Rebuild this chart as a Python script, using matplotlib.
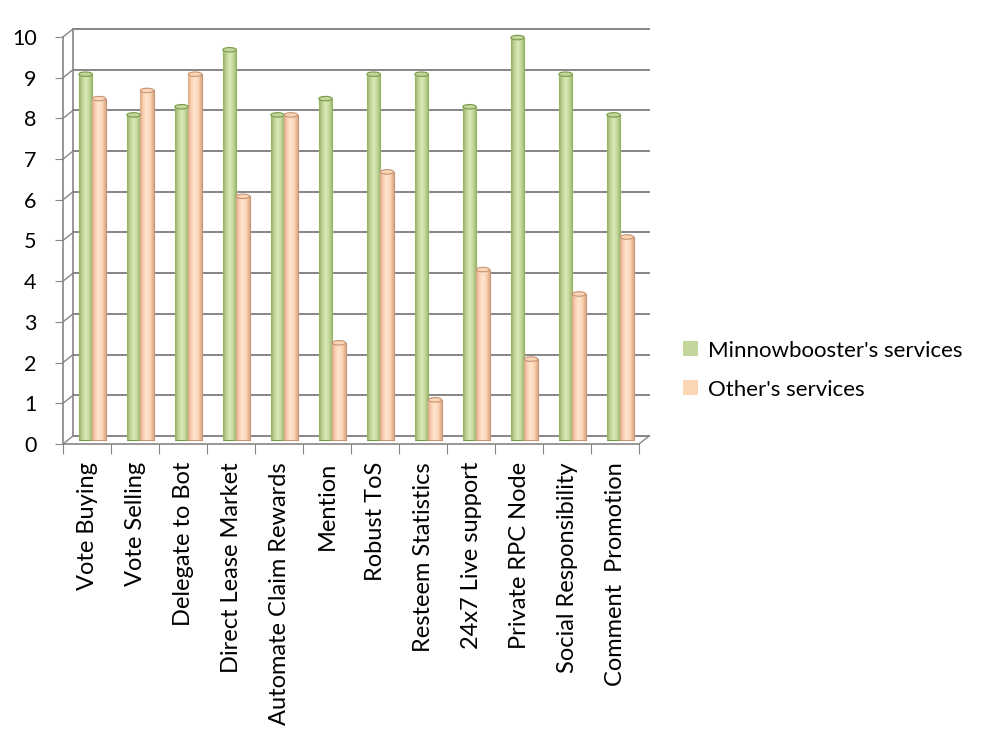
import matplotlib
matplotlib.use("Agg")
import matplotlib.pyplot as plt
import matplotlib.transforms as mtransforms
from matplotlib.patches import Ellipse, Patch
import numpy as np

categories = ["Vote Buying", "Vote Selling", "Delegate to Bot", "Direct Lease Market",
              "Automate Claim Rewards", "Mention", "Robust ToS", "Resteem Statistics",
              "24x7 Live support", "Private RPC Node", "Social Responsibility",
              "Comment  Promotion"]
minnow = [9, 8, 8.2, 9.6, 8, 8.4, 9, 9, 8.2, 9.9, 9, 8]
others = [8.4, 8.6, 9, 6, 8, 2.4, 6.6, 1, 4.2, 2, 3.6, 5]
series_names = ["Minnowbooster's services", "Other's services"]
yticks = list(range(0, 11))

plt.rcParams['font.family'] = ['Lato', 'DejaVu Sans']

fig = plt.figure(figsize=(9.93, 7.33), dpi=100)
ax = fig.add_axes([63/993, 1 - 444/733, 576/993, 407/733])
ax.set_xlim(-0.5, len(categories) - 0.5)
ax.set_ylim(0, 10)

grid_col = "#868686"
inv = fig.transFigure.inverted()
# back-wall offset (3D look)
off = mtransforms.ScaledTranslation(0.10, 0.08, fig.dpi_scale_trans)
gtrans = ax.get_yaxis_transform() + off
for y in yticks:
    ax.plot([0, 1], [y, y], transform=gtrans, color=grid_col, lw=1.4, clip_on=False, zorder=1)
ax.plot([0, 0], [0, 10], transform=gtrans, color=grid_col, lw=1.2, clip_on=False, zorder=1)
dtrans = ax.get_yaxis_transform()
for y in yticks:
    a = inv.transform(dtrans.transform((0, y)))
    b = inv.transform(gtrans.transform((0, y)))
    fig.add_artist(plt.Line2D([a[0], b[0]], [a[1], b[1]], color=grid_col, lw=1.0))
a = inv.transform(ax.transAxes.transform((1, 0)))
b = inv.transform((ax.transAxes + off).transform((1, 0)))
fig.add_artist(plt.Line2D([a[0], b[0]], [a[1], b[1]], color=grid_col, lw=1.0))

# bars sit midway in depth
boff = mtransforms.ScaledTranslation(0.0, 0.035, fig.dpi_scale_trans)
btrans = ax.transData + boff

x = np.arange(len(categories))
w = 0.28
styles = [
    dict(face="#C3D69B", light="#DCEAB6", dark="#93AE62", edge="#7A9A48", dx=-0.03),
    dict(face="#FCD5B5", light="#FFE5CE", dark="#D9A784", edge="#C49474", dx=0.25),
]
for vals, st, name in zip([minnow, others], styles, series_names):
    bars = ax.bar(x + st["dx"], vals, width=w, color=st["face"], edgecolor=st["edge"],
                  linewidth=0.8, zorder=3, label=name, clip_on=False)
    cmap = matplotlib.colors.LinearSegmentedColormap.from_list(
        "c", [st["dark"], st["face"], st["light"], st["face"], st["dark"]])
    grad = np.linspace(0, 1, 64).reshape(1, -1)
    for bar in bars:
        bar.set_transform(btrans)
        bx, by, bw, bh = bar.get_x(), bar.get_y(), bar.get_width(), bar.get_height()
        im = ax.imshow(grad, cmap=cmap, extent=[bx, bx + bw, by, by + bh], aspect="auto",
                       zorder=3.5, interpolation="bicubic")
        im.set_transform(btrans)
        im.set_clip_path(bar)
        ax.add_patch(Ellipse((bx + bw / 2, by + bh), bw, 0.11, facecolor=st["face"],
                             edgecolor=st["edge"], lw=0.8, zorder=4, clip_on=False,
                             transform=btrans))
ax.set_xlim(-0.5, len(categories) - 0.5)
ax.set_ylim(0, 10)

for s in ["top", "right"]:
    ax.spines[s].set_visible(False)
for s in ["left", "bottom"]:
    ax.spines[s].set_color(grid_col)
    ax.spines[s].set_linewidth(1.2)
    ax.spines[s].set_zorder(0.5)

ax.set_yticks(yticks)
ax.set_yticklabels([str(t) for t in yticks], fontsize=15.5)
ax.tick_params(axis="y", length=6, color=grid_col, pad=13)
ax.set_xticks(np.arange(-0.5, len(categories), 1.0))
ax.set_xticklabels([])
ax.tick_params(axis="x", which="major", length=7, color=grid_col)
ax.set_xticks(x, minor=True)
ax.set_xticklabels(categories, minor=True, rotation=90, fontsize=17)
ax.tick_params(axis="x", which="minor", length=0, pad=13)
ax.patch.set_visible(False)

hs = [Patch(facecolor=st["face"], edgecolor="none") for st in styles]
fig.legend(hs, series_names, loc="center left", bbox_to_anchor=(0.668, 0.495),
           frameon=False, fontsize=16, handlelength=0.65, handleheight=0.65,
           labelspacing=0.85, handletextpad=0.45)

fig.savefig("out.png", dpi=100)
